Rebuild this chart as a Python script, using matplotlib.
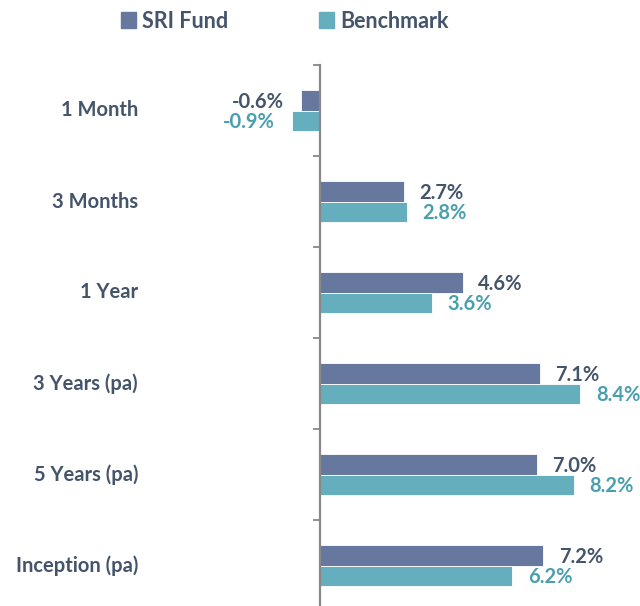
import matplotlib
matplotlib.use('Agg')
import matplotlib.pyplot as plt
from matplotlib.patches import Patch
import numpy as np

plt.rcParams['font.family'] = ['Lato', 'DejaVu Sans']

categories = ["1 Month", "3 Months", "1 Year", "3 Years (pa)", "5 Years (pa)", "Inception (pa)"]
sri_fund   = [-0.6, 2.7, 4.6, 7.1, 7.0, 7.2]
benchmark  = [-0.9, 2.8, 3.6, 8.4, 8.2, 6.2]

SRI_COL   = '#67789F'
BENCH_COL = '#65AEBD'
TEXT_COL  = '#44546A'
BENCH_TXT = '#4A9FAE'
AXIS_COL  = '#888888'

BAR_H = 0.22

fig = plt.figure(figsize=(6.4, 6.06), dpi=100)
ax = fig.add_axes([0, -5 / 606, 1, 546 / 606])

y = np.arange(len(categories))
ax.barh(y - BAR_H / 2, sri_fund, height=BAR_H, color=SRI_COL,
        edgecolor='white', linewidth=0.6)
ax.barh(y + BAR_H / 2, benchmark, height=BAR_H, color=BENCH_COL,
        edgecolor='white', linewidth=0.6)

ax.set_xlim(-320 / 31, 320 / 31)
ax.set_ylim(len(categories) - 0.5, -0.5)

# value labels
for yi, v in zip(y, sri_fund):
    off = 0.5 if v >= 0 else -0.55
    ax.text(v + off, yi - BAR_H / 2 + 0.02, f"{v:.1f}%",
            ha='left' if v >= 0 else 'right', va='center',
            fontsize=14.5, fontweight='bold', color=TEXT_COL)
for yi, v in zip(y, benchmark):
    off = 0.5 if v >= 0 else -0.55
    ax.text(v + off, yi + BAR_H / 2 + 0.02, f"{v:.1f}%",
            ha='left' if v >= 0 else 'right', va='center',
            fontsize=14.5, fontweight='bold', color=BENCH_TXT)

# category labels
for yi, cat in zip(y, categories):
    ax.text(-182 / 31, yi, cat, ha='right', va='center',
            fontsize=14.5, fontweight='bold', color=TEXT_COL)

for s in ['top', 'right', 'bottom']:
    ax.spines[s].set_visible(False)
ax.spines['left'].set_position(('data', 0))
ax.spines['left'].set_color(AXIS_COL)
ax.spines['left'].set_linewidth(1.6)
ax.set_xticks([])
ax.set_yticks(np.arange(-0.5, len(categories), 1.0))
ax.set_yticklabels([])
ax.tick_params(axis='y', direction='out', length=5, width=1.3, color=AXIS_COL)

handles = [Patch(color=SRI_COL, label='SRI Fund'),
           Patch(color=BENCH_COL, label='Benchmark')]
leg = fig.legend(handles=handles, loc='center', bbox_to_anchor=(0.445, 1 - 21 / 606),
                 ncol=2, frameon=False, handlelength=0.7, handleheight=0.7,
                 handletextpad=0.3, columnspacing=4.2,
                 prop={'weight': 'bold', 'size': 15.5})
for t in leg.get_texts():
    t.set_color(TEXT_COL)

fig.savefig('out.png', dpi=100)
